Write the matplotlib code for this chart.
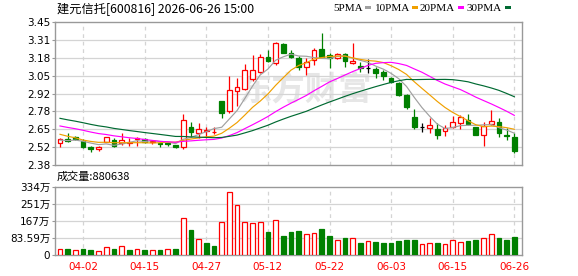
import matplotlib
matplotlib.use('Agg')
import matplotlib.pyplot as plt
import numpy as np
import pandas as pd
from matplotlib.patches import Rectangle

plt.rcParams['font.family'] = ['Noto Sans CJK SC', 'DejaVu Sans']

title = '建元信托[600816] 2026-06-26 15:00'
volume_title = '成交量:880638'
watermark = '东方财富'

dates = ['03-30', '03-31', '04-01', '04-02', '04-03', '04-07', '04-08', '04-09', '04-10', '04-13',
         '04-14', '04-15', '04-16', '04-17', '04-20', '04-21', '04-22', '04-23', '04-24', '04-27',
         '04-28', '04-29', '04-30', '05-06', '05-07', '05-08', '05-11', '05-12', '05-13', '05-14',
         '05-15', '05-18', '05-19', '05-20', '05-21', '05-22', '05-25', '05-26', '05-27', '05-28',
         '05-29', '06-01', '06-02', '06-03', '06-04', '06-05', '06-08', '06-09', '06-10', '06-11',
         '06-12', '06-15', '06-16', '06-17', '06-18', '06-22', '06-23', '06-24', '06-25', '06-26']
tick_labels = ['04-02', '04-15', '04-27', '05-12', '05-22', '06-03', '06-15', '06-26']

open_ = [2.549, 2.576, 2.593, 2.563, 2.516, 2.499, 2.553, 2.568, 2.544, 2.549,
         2.573, 2.573, 2.553, 2.549, 2.549, 2.529, 2.519, 2.668, 2.623, 2.636,
         2.626, 2.859, 2.787, 2.936, 2.946, 3.020, 3.078, 3.189, 3.140, 3.281,
         3.219, 3.177, 3.110, 3.165, 3.244, 3.202, 3.177, 3.209, 3.140, 3.120,
         3.103, 3.098, 3.078, 3.028, 2.996, 2.904, 2.737, 2.665, 2.660, 2.648,
         2.633, 2.668, 2.693, 2.717, 2.663, 2.608, 2.690, 2.703, 2.606, 2.593]
high = [2.581, 2.623, 2.601, 2.573, 2.524, 2.524, 2.588, 2.581, 2.618, 2.586,
        2.588, 2.581, 2.568, 2.553, 2.556, 2.534, 2.762, 2.705, 2.698, 2.668,
        2.663, 2.859, 3.045, 3.028, 3.132, 3.202, 3.207, 3.239, 3.299, 3.289,
        3.239, 3.197, 3.177, 3.257, 3.368, 3.214, 3.219, 3.219, 3.294, 3.152,
        3.170, 3.115, 3.090, 3.040, 3.003, 2.911, 2.797, 2.698, 2.730, 2.698,
        2.678, 2.747, 2.752, 2.760, 2.668, 2.703, 2.792, 2.730, 2.655, 2.623]
low = [2.519, 2.556, 2.568, 2.506, 2.476, 2.489, 2.553, 2.516, 2.531, 2.524,
       2.526, 2.544, 2.539, 2.519, 2.524, 2.509, 2.501, 2.588, 2.581, 2.581,
       2.611, 2.735, 2.772, 2.822, 2.941, 3.011, 3.070, 3.152, 3.127, 3.214,
       3.177, 3.090, 3.053, 3.127, 3.184, 3.103, 3.170, 3.110, 3.132, 3.073,
       3.065, 3.028, 3.016, 2.991, 2.896, 2.797, 2.653, 2.630, 2.623, 2.578,
       2.601, 2.655, 2.650, 2.678, 2.603, 2.524, 2.683, 2.593, 2.568, 2.474]
close = [2.573, 2.561, 2.578, 2.516, 2.499, 2.516, 2.588, 2.524, 2.568, 2.556,
         2.581, 2.553, 2.561, 2.539, 2.539, 2.514, 2.717, 2.630, 2.648, 2.643,
         2.630, 2.767, 2.941, 2.961, 3.090, 3.090, 3.184, 3.160, 3.289, 3.219,
         3.189, 3.115, 3.150, 3.239, 3.189, 3.177, 3.209, 3.160, 3.160, 3.103,
         3.103, 3.070, 3.045, 3.003, 2.904, 2.817, 2.665, 2.665, 2.678, 2.608,
         2.655, 2.700, 2.737, 2.690, 2.608, 2.673, 2.710, 2.623, 2.601, 2.489]
# closes of the 29 sessions before the window (needed for the moving averages)
prior_close = [2.90, 2.88, 2.86, 2.87, 2.84, 2.83, 2.85, 2.81, 2.80, 2.80,
               2.78, 2.77, 2.75, 2.76, 2.74, 2.73, 2.72, 2.71, 2.70, 2.69,
               2.71, 2.69, 2.685, 2.60, 2.585, 2.58, 2.56, 2.56, 2.567]
# volume in 万 (10k lots)
volume = [27.5, 29, 22.6, 29, 24, 17.8, 37, 29, 42, 24,
          27.5, 24, 22.6, 24, 27.5, 29, 182.5, 121, 81, 58,
          43.6, 163, 308.5, 245.5, 163, 158, 163, 111.5, 173, 92,
          111.5, 116, 102, 110, 126, 92, 76, 82, 85.6, 58,
          71, 63, 58, 58, 68, 76, 76, 56.5, 61, 58,
          56.5, 76, 63, 68, 72.7, 85.6, 105, 82, 72.7, 88.06]

price_tick_labels = ['2.38', '2.52', '2.65', '2.78', '2.92', '3.05', '3.18', '3.31', '3.45']
volume_ticks = [0, 83.59, 167, 251, 334]
volume_tick_labels = ['0', '83.59万', '167万', '251万', '334万']
ma_windows = [5, 10, 20, 30]
ma_labels = ['5PMA', '10PMA', '20PMA', '30PMA']
ma_colors = ['#a0a0a0', '#f0a000', '#ff00ff', '#006a32']

RED = '#ff0000'
GREEN = '#008000'
GRID = '#d4d4d4'
SPINE = '#999999'

W, H = 578, 276
fig = plt.figure(figsize=(W / 100, H / 100), dpi=100)
fig.patch.set_facecolor('white')

def fx(px):
    return px / W

def fy(py):
    return 1 - py / H

left, right = 55, 522
ax = fig.add_axes([fx(left), fy(165.3), fx(right - left), (165.3 - 21.7) / H])
axv = fig.add_axes([fx(left), fy(255), fx(right - left), (255 - 187) / H])

n = len(close)
x = np.arange(n)
bw = 0.62

# watermark
ax.text(0.535, 0.52, watermark, transform=ax.transAxes, fontsize=24, fontweight='bold',
        color='#e6e6e6', ha='center', va='center', zorder=0)

# candles
for i in range(n):
    o, h, l, c = open_[i], high[i], low[i], close[i]
    if c > o:
        ax.add_patch(Rectangle((i - bw / 2, o), bw, c - o, facecolor='white',
                               edgecolor=RED, linewidth=0.9, zorder=3))
        ax.vlines(i, c, h, color=RED, linewidth=0.9, zorder=3)
        ax.vlines(i, l, o, color=RED, linewidth=0.9, zorder=3)
    elif c < o:
        ax.add_patch(Rectangle((i - bw / 2, c), bw, o - c, facecolor=GREEN,
                               edgecolor=GREEN, linewidth=0.9, zorder=3))
        ax.vlines(i, l, h, color=GREEN, linewidth=0.9, zorder=3)
    else:
        ax.hlines(o, i - bw / 2, i + bw / 2, color='black', linewidth=0.9, zorder=3)
        ax.vlines(i, l, h, color='black', linewidth=0.9, zorder=3)

# moving averages
all_close = pd.Series(prior_close + close)
for win, col in zip(ma_windows, ma_colors):
    ma = all_close.rolling(win).mean().iloc[len(prior_close):].to_numpy()
    ax.plot(x, ma, color=col, linewidth=0.85, zorder=4)

ymin, ymax = float(price_tick_labels[0]), float(price_tick_labels[-1])
ax.set_ylim(ymin, ymax)
ax.set_xlim(-0.65, n)
yt = np.linspace(ymin, ymax, len(price_tick_labels))
ax.set_yticks(yt)
ax.set_yticklabels(price_tick_labels)

tick_pos = [dates.index(t) for t in tick_labels]
for a in (ax, axv):
    a.set_xticks(tick_pos)
    a.grid(axis='x', color=GRID, linestyle=(0, (3, 3)), linewidth=0.9)
    for s in a.spines.values():
        s.set_color(SPINE)
        s.set_linewidth(1.0)
    a.tick_params(axis='y', length=2.5, width=0.8, color=SPINE, pad=1, labelsize=7.5,
                  labelfontfamily='DejaVu Sans')
    a.set_axisbelow(True)
for yv in yt[1:-1]:
    ax.axhline(yv, color=GRID, linewidth=0.9, zorder=0.5)
ax.tick_params(axis='x', length=0, labelbottom=False)

# volume (red when close >= previous close)
prev = [prior_close[-1]] + close[:-1]
for i in range(n):
    up = close[i] >= prev[i]
    if up:
        axv.add_patch(Rectangle((i - bw / 2, 0), bw, volume[i], facecolor='white',
                                edgecolor=RED, linewidth=0.9, zorder=3))
    else:
        axv.add_patch(Rectangle((i - bw / 2, 0), bw, volume[i], facecolor=GREEN,
                                edgecolor=GREEN, linewidth=0.9, zorder=3))
axv.set_xlim(-0.65, n)
axv.set_ylim(0, volume_ticks[-1] + 0.36)
axv.set_yticks(volume_ticks)
axv.set_yticklabels(volume_tick_labels)
for yv in volume_ticks[1:-1]:
    axv.axhline(yv, color=GRID, linewidth=0.9, zorder=0.5)
axv.set_xticklabels(tick_labels)
axv.tick_params(axis='x', length=0, pad=5, labelsize=7.5, labelcolor=RED,
                labelfontfamily='DejaVu Sans')
for lab in axv.get_yticklabels():
    lab.set_fontfamily(['DejaVu Sans', 'Noto Sans CJK SC'])

# title and labels
fig.text(fx(57), fy(9), title, fontsize=8.8, ha='left', va='center', color='black')
fig.text(fx(57), fy(177), volume_title, fontsize=8, ha='left', va='center', color='black')

# legend
text_right = [363, 410, 455, 502]
sq_x = [365, 412, 458, 505]
for lab, col, tx, sx in zip(ma_labels, ma_colors, text_right, sq_x):
    fig.text(fx(tx), fy(8.8), lab, fontsize=8, ha='right', va='center', color='black',
             family='Liberation Serif')
    fig.patches.append(Rectangle((fx(sx), fy(9.2)), fx(6), 3.5 / H, facecolor=col,
                                 edgecolor='none', transform=fig.transFigure, figure=fig))

fig.savefig('out.png', dpi=100)
